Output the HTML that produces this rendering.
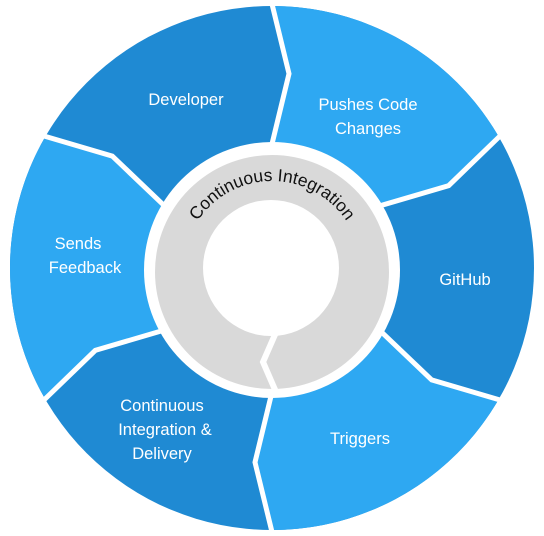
<!DOCTYPE html>
<html><head><meta charset="utf-8"><style>
html,body{margin:0;padding:0;background:#fff;}
svg{display:block;}
text{font-family:"Liberation Sans",sans-serif;}
.l{fill:#fff;font-size:16.5px;text-anchor:middle;}
</style></head><body>
<svg width="544" height="536" viewBox="0 0 544 536">
<circle cx="272" cy="268" r="262" fill="#1f8ad3"/>
<path fill="#2ea8f2" d="M272 144 L289 73.7 L272 6 A262 262 0 0 1 498.9 137 L448.7 185.6 L379.4 206 A124 124 0 0 0 272 144Z"/>
<path fill="#2ea8f2" d="M379.4 330 L431.7 379.9 L498.9 399 A262 262 0 0 1 272 530 L255 462.3 L272 392 A124 124 0 0 0 379.4 330Z"/>
<path fill="#2ea8f2" d="M164.6 330 L95.3 350.4 L45.1 399 A262 262 0 0 1 45.1 137 L112.3 156.1 L164.6 206 A124 124 0 0 0 164.6 330Z"/>
<g fill="none" stroke="#fff" stroke-width="5" stroke-linejoin="miter">
<polyline points="272,144 289,73.7 272,4"/>
<polyline points="379.4,206 448.7,185.6 500,136"/>
<polyline points="379.4,330 431.7,379.9 500,400"/>
<polyline points="272,392 255,462.3 272,532"/>
<polyline points="164.6,330 95.3,350.4 44,400"/>
<polyline points="164.6,206 112.3,156.1 44,136"/>
</g>
<circle cx="272" cy="270" r="128" fill="#fff"/>
<circle cx="272" cy="272" r="117" fill="#d9d9d9"/>
<circle cx="271" cy="268" r="68" fill="#fff"/>
<polyline points="277,330 263,362 276,392" fill="none" stroke="#fff" stroke-width="6"/>
<path id="arc" d="M183 270 A89 89 0 0 1 361 270" fill="none"/>
<text font-size="17.5" fill="#111"><textPath href="#arc" startOffset="50%" text-anchor="middle">Continuous Integration</textPath></text>
<text class="l" x="186" y="105">Developer</text>
<text class="l" x="368" y="110">Pushes Code</text>
<text class="l" x="368" y="134">Changes</text>
<text class="l" x="465" y="285">GitHub</text>
<text class="l" x="360" y="444">Triggers</text>
<text class="l" x="162" y="411">Continuous</text>
<text class="l" x="165" y="435">Integration &amp;</text>
<text class="l" x="162" y="459">Delivery</text>
<text class="l" x="78" y="249">Sends</text>
<text class="l" x="85" y="273">Feedback</text>
</svg>
</body></html>
